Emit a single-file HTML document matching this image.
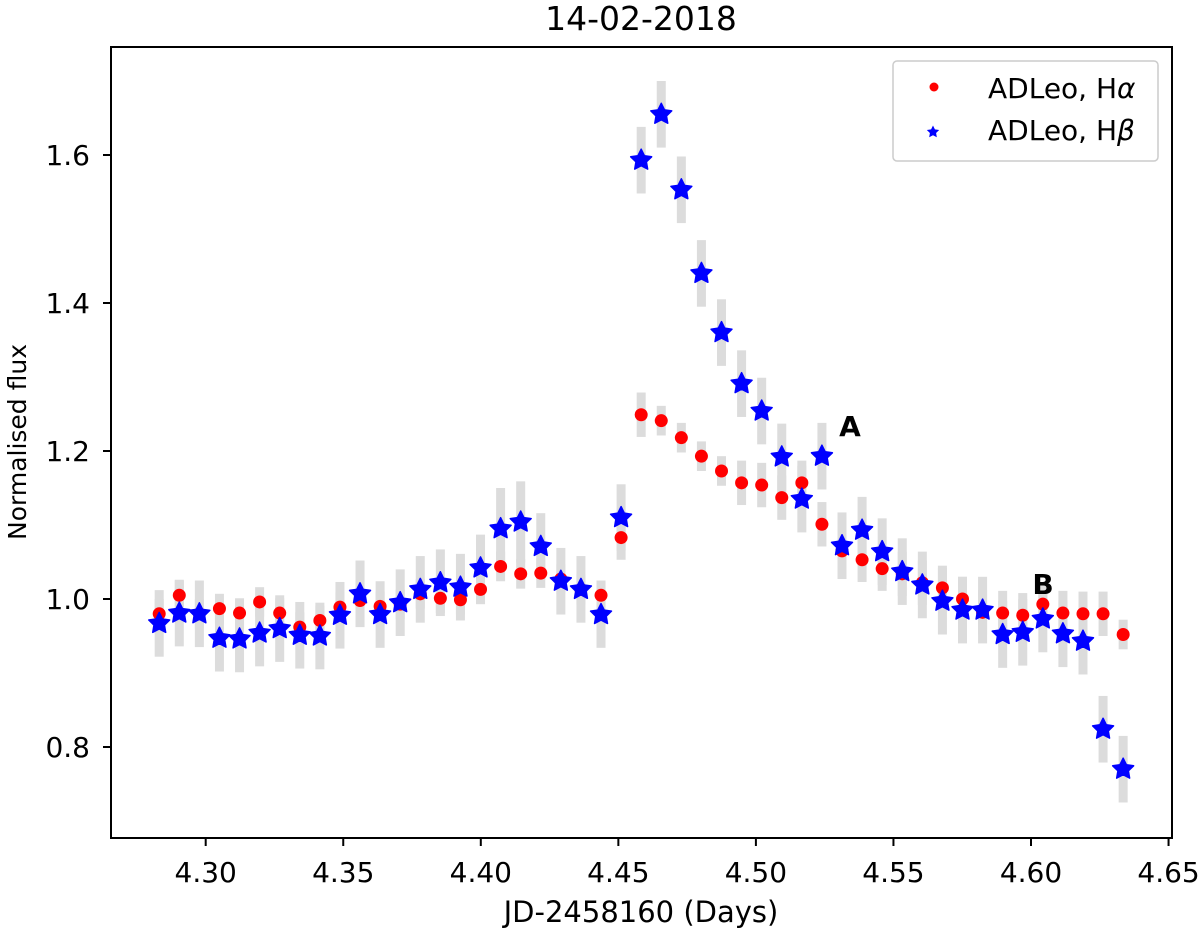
<!DOCTYPE html>
<html><head><meta charset="utf-8"><style>
html,body{margin:0;padding:0;background:#fff;}
svg{display:block;font-family:"DejaVu Sans","Liberation Sans",sans-serif;}
</style></head><body>
<svg id="chart" width="1200" height="930" viewBox="0 0 1200 930">
<g id="bars"></g>
<g id="marks"></g>
<rect x="111" y="47" width="1061" height="791" fill="none" stroke="#000" stroke-width="2"/>
<g id="xticks"></g>
<g id="yticks"></g>
<text x="641" y="30" font-size="33" text-anchor="middle">14-02-2018</text>
<text x="641" y="922" font-size="29" text-anchor="middle">JD-2458160 (Days)</text>
<text transform="translate(26,442) rotate(-90)" font-size="25" text-anchor="middle">Normalised flux</text>
<text x="850" y="436" font-size="28" font-weight="bold" text-anchor="middle">A</text>
<text x="1043" y="594" font-size="28" font-weight="bold" text-anchor="middle">B</text>
<g>
<rect x="893" y="61" width="265" height="100" rx="4" fill="#fff" stroke="#ccc" stroke-width="1.5"/>
<circle cx="934" cy="87" r="4.5" fill="#ff0000"/>
<text x="988" y="98" font-size="28">ADLeo, H<tspan font-style="italic">α</tspan></text>
<path id="legstar" fill="#0000ff"/>
<text x="988" y="140" font-size="28">ADLeo, H<tspan font-style="italic">β</tspan></text>
</g>
</svg>
<script>
const days=[4.2831,4.2904,4.2977,4.3050,4.3123,4.3196,4.3269,4.3342,4.3415,4.3488,4.3561,4.3634,4.3707,4.3780,4.3853,4.3926,4.3999,4.4072,4.4145,4.4218,4.4291,4.4364,4.4437,4.4510,4.4583,4.4656,4.4729,4.4802,4.4875,4.4948,4.5021,4.5094,4.5167,4.5240,4.5313,4.5386,4.5459,4.5532,4.5605,4.5678,4.5751,4.5824,4.5897,4.5970,4.6043,4.6116,4.6189,4.6262,4.6335];
const halpha=[0.980,1.005,0.980,0.987,0.981,0.996,0.981,0.962,0.971,0.989,0.998,0.990,0.993,1.007,1.001,0.999,1.013,1.044,1.034,1.035,1.027,1.013,1.005,1.083,1.249,1.241,1.218,1.193,1.173,1.157,1.154,1.137,1.157,1.101,1.065,1.053,1.041,1.034,1.022,1.015,1.000,0.982,0.981,0.978,0.993,0.981,0.980,0.980,0.952];
const hbeta=[0.967,0.981,0.980,0.947,0.946,0.954,0.960,0.951,0.950,0.978,1.007,0.979,0.995,1.013,1.022,1.016,1.042,1.095,1.104,1.071,1.024,1.013,0.979,1.110,1.593,1.655,1.553,1.440,1.360,1.291,1.254,1.192,1.135,1.193,1.072,1.093,1.064,1.037,1.019,0.997,0.985,0.985,0.952,0.955,0.973,0.953,0.943,0.824,0.770];
const herr=[0.02,0.02,0.02,0.02,0.02,0.02,0.02,0.02,0.02,0.02,0.02,0.02,0.02,0.02,0.02,0.02,0.02,0.02,0.02,0.02,0.02,0.02,0.02,0.03,0.03,0.02,0.02,0.02,0.02,0.03,0.03,0.03,0.03,0.03,0.03,0.03,0.03,0.03,0.03,0.03,0.03,0.03,0.03,0.03,0.03,0.03,0.03,0.03,0.02];
const berr=[0.045,0.045,0.045,0.045,0.045,0.045,0.045,0.045,0.045,0.045,0.045,0.045,0.045,0.045,0.045,0.045,0.045,0.055,0.055,0.045,0.045,0.045,0.045,0.045,0.045,0.045,0.045,0.045,0.045,0.045,0.045,0.045,0.045,0.045,0.045,0.045,0.045,0.045,0.045,0.045,0.045,0.045,0.045,0.045,0.045,0.045,0.045,0.045,0.045];
const xTicks=[4.30,4.35,4.40,4.45,4.50,4.55,4.60,4.65];
const xTickLabels=["4.30","4.35","4.40","4.45","4.50","4.55","4.60","4.65"];
const yTicks=[0.8,1.0,1.2,1.4,1.6];
const yTickLabels=["0.8","1.0","1.2","1.4","1.6"];

const NS="http://www.w3.org/2000/svg";
function xs(d){return 205.7+(d-4.30)*2751;}
function ys(v){return 599-(v-1.0)*740;}
function mk(tag,attrs,parent){const e=document.createElementNS(NS,tag);for(const k in attrs)e.setAttribute(k,attrs[k]);parent.appendChild(e);return e;}
function starPath(cx,cy,R){const r=R*0.5;let p="";for(let k=0;k<10;k++){const a=-Math.PI/2+k*Math.PI/5;const rr=k%2?r:R;p+=(k?"L":"M")+(cx+rr*Math.cos(a)).toFixed(2)+","+(cy+rr*Math.sin(a)).toFixed(2);}return p+"Z";}

const bars=document.getElementById('bars'),marks=document.getElementById('marks');
days.forEach((d,i)=>{
  const x=xs(d);
  let b=mk('rect',{x:x-4.5,y:ys(halpha[i]+herr[i]),width:9,height:ys(halpha[i]-herr[i])-ys(halpha[i]+herr[i]),fill:'#dcdcdc'},bars);
  
  
  let c=mk('rect',{x:x-4.5,y:ys(hbeta[i]+berr[i]),width:9,height:ys(hbeta[i]-berr[i])-ys(hbeta[i]+berr[i]),fill:'#dcdcdc'},bars);
  
  
});
days.forEach((d,i)=>{
  const p=mk('circle',{cx:xs(d),cy:ys(halpha[i]),r:6.5,fill:'#ff0000'},marks);
  
  
});
days.forEach((d,i)=>{
  const s=mk('path',{d:starPath(xs(d),ys(hbeta[i]),11),fill:'#0000ff',stroke:'#0000ff','stroke-width':1.5,'stroke-linejoin':'round'},marks);
  
  
});
document.getElementById('legstar').setAttribute('d',starPath(933,132,6.5));

const xg=document.getElementById('xticks');
xTicks.forEach((t,i)=>{
  const x=xs(t);
  const l=mk('line',{x1:x,x2:x,y1:838,y2:846,stroke:'#000','stroke-width':2},xg);
  
  
  const tx=mk('text',{x:x,y:882,'font-size':28,'text-anchor':'middle'},xg);
  tx.textContent=xTickLabels[i];
  
  
});
const yg=document.getElementById('yticks');
yTicks.forEach((t,i)=>{
  const y=ys(t);
  const l=mk('line',{x1:103,x2:111,y1:y,y2:y,stroke:'#000','stroke-width':2},yg);
  
  
  const tx=mk('text',{x:90,y:y+10,'font-size':28,'text-anchor':'end'},yg);
  tx.textContent=yTickLabels[i];
  
  
});
</script>
</body></html>
